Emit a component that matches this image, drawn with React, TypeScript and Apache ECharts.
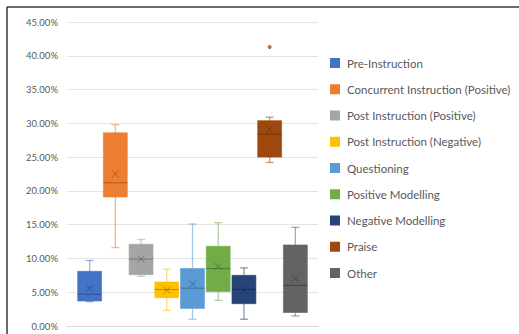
import React, { useEffect, useRef } from "react";
import * as echarts from "echarts";

const categories = [
  "Pre-Instruction",
  "Concurrent Instruction (Positive)",
  "Post Instruction (Positive)",
  "Post Instruction (Negative)",
  "Questioning",
  "Positive Modelling",
  "Negative Modelling",
  "Praise",
  "Other",
];
const colors = ["#4472C4", "#ED7D31", "#A5A5A5", "#FFC000", "#5B9BD5", "#70AD47", "#264478", "#9E480E", "#636363"];
const whiskerLow = [3.6, 11.6, 7.35, 2.3, 1.0, 3.8, 1.0, 24.2, 1.5];
const q1 = [3.7, 19.1, 7.6, 4.2, 2.6, 5.1, 3.3, 25.0, 2.0];
const median = [4.7, 21.2, 9.9, 5.4, 5.6, 8.5, 5.4, 28.4, 6.0];
const q3 = [8.1, 28.6, 12.1, 6.5, 8.5, 11.8, 7.5, 30.4, 12.0];
const whiskerHigh = [9.7, 29.8, 12.8, 8.4, 15.1, 15.3, 8.6, 30.9, 14.6];
const mean = [5.6, 22.5, 9.9, 5.3, 6.2, 8.8, 5.3, 29.1, 7.0];
const outliers: [number, number][] = [[7, 41.3]]; // [category index, value]
const yTicks = { min: 0, max: 45, interval: 5 };

const FONT = "Lato";

function hexA(hex: string, a: number) {
  const n = parseInt(hex.slice(1), 16);
  return `rgba(${(n >> 16) & 255},${(n >> 8) & 255},${n & 255},${a})`;
}
function darken(hex: string, f: number) {
  const n = parseInt(hex.slice(1), 16);
  const r = Math.round(((n >> 16) & 255) * f);
  const g = Math.round(((n >> 8) & 255) * f);
  const b = Math.round((n & 255) * f);
  return `rgb(${r},${g},${b})`;
}

export default function App() {
  const ref = useRef<HTMLDivElement>(null);
  useEffect(() => {
    if (!ref.current) return;
    const chart = echarts.init(ref.current, undefined, { renderer: "svg" });

    const boxSeries = categories.map((name, i) => {
      const color = colors[i];
      return {
        type: "custom",
        name,
        itemStyle: { color },
        data: [[i, whiskerLow[i], q1[i], median[i], q3[i], whiskerHigh[i], mean[i]]],
        encode: { x: 0, y: [1, 2, 3, 4, 5, 6] },
        renderItem: (params: any, api: any) => {
          const x = api.value(0);
          const unit = api.size([1, 0])[0];
          const w = unit * 0.93;
          const capW = 8;
          const pLow = api.coord([x, api.value(1)]);
          const pQ1 = api.coord([x, api.value(2)]);
          const pMed = api.coord([x, api.value(3)]);
          const pQ3 = api.coord([x, api.value(4)]);
          const pHigh = api.coord([x, api.value(5)]);
          const pMean = api.coord([x, api.value(6)]);
          const cx = pMed[0];
          const wStyle = { stroke: hexA(color, 0.55), lineWidth: 1.3 };
          const dark = darken(color, 0.6);
          const m = 3.5;
          return {
            type: "group",
            children: [
              { type: "line", shape: { x1: cx, y1: pHigh[1], x2: cx, y2: pQ3[1] }, style: wStyle },
              { type: "line", shape: { x1: cx - capW / 2, y1: pHigh[1], x2: cx + capW / 2, y2: pHigh[1] }, style: wStyle },
              { type: "line", shape: { x1: cx, y1: pQ1[1], x2: cx, y2: pLow[1] }, style: wStyle },
              { type: "line", shape: { x1: cx - capW / 2, y1: pLow[1], x2: cx + capW / 2, y2: pLow[1] }, style: wStyle },
              {
                type: "rect",
                shape: { x: cx - w / 2, y: pQ3[1], width: w, height: pQ1[1] - pQ3[1] },
                style: { fill: color, stroke: hexA(color, 0.6), lineWidth: 1 },
              },
              { type: "line", shape: { x1: cx - w / 2, y1: pMed[1], x2: cx + w / 2, y2: pMed[1] }, style: { stroke: dark, lineWidth: 1, opacity: 0.7 } },
              { type: "line", shape: { x1: cx - m, y1: pMean[1] - m, x2: cx + m, y2: pMean[1] + m }, style: { stroke: dark, lineWidth: 1, opacity: 0.7 } },
              { type: "line", shape: { x1: cx - m, y1: pMean[1] + m, x2: cx + m, y2: pMean[1] - m }, style: { stroke: dark, lineWidth: 1, opacity: 0.7 } },
            ],
          };
        },
      };
    });

    const outlierSeries = {
      type: "scatter",
      name: categories[7],
      symbol: "circle",
      symbolSize: 4,
      itemStyle: { color: colors[7] },
      data: outliers.map((o) => [o[0], o[1]]),
    };

    chart.setOption({
      animation: false,
      textStyle: { fontFamily: FONT },
      grid: { left: 67, right: 201, top: 22, bottom: 8 },
      xAxis: {
        type: "value",
        min: -0.88,
        max: 8.88,
        axisLine: { show: true, lineStyle: { color: "#d9d9d9", width: 1 } },
        axisTick: { show: false },
        axisLabel: { show: false },
        splitLine: { show: false },
      },
      yAxis: {
        type: "value",
        min: yTicks.min,
        max: yTicks.max,
        interval: yTicks.interval,
        axisLine: { show: false },
        axisTick: { show: false },
        axisLabel: {
          color: "#595959",
          fontSize: 9.5,
          fontFamily: FONT,
          margin: 9,
          formatter: (v: number) => v.toFixed(2) + "%",
        },
        splitLine: { lineStyle: { color: "#e3e3e3", width: 1 } },
      },
      legend: {
        orient: "vertical",
        left: 325,
        top: 52,
        icon: "rect",
        itemWidth: 10,
        itemHeight: 10,
        itemGap: 14.25,
        data: categories,
        textStyle: { color: "#595959", fontSize: 11.5, fontFamily: FONT, lineHeight: 12, padding: [0, 0, 0, 2] },
      },
      graphic: [
        { type: "line", shape: { x1: 7, y1: 7, x2: 7, y2: 334 }, style: { stroke: "#3a3a3a", lineWidth: 1.5 } },
        { type: "line", shape: { x1: 7, y1: 7, x2: 519, y2: 7 }, style: { stroke: "#3a3a3a", lineWidth: 1.5 } },
      ],
      series: [...boxSeries, outlierSeries],
    });
    return () => chart.dispose();
  }, []);
  return (
    <div
      ref={ref}
      style={{ position: "fixed", left: 0, top: 0, width: 519, height: 334, background: "#fff" }}
    />
  );
}
